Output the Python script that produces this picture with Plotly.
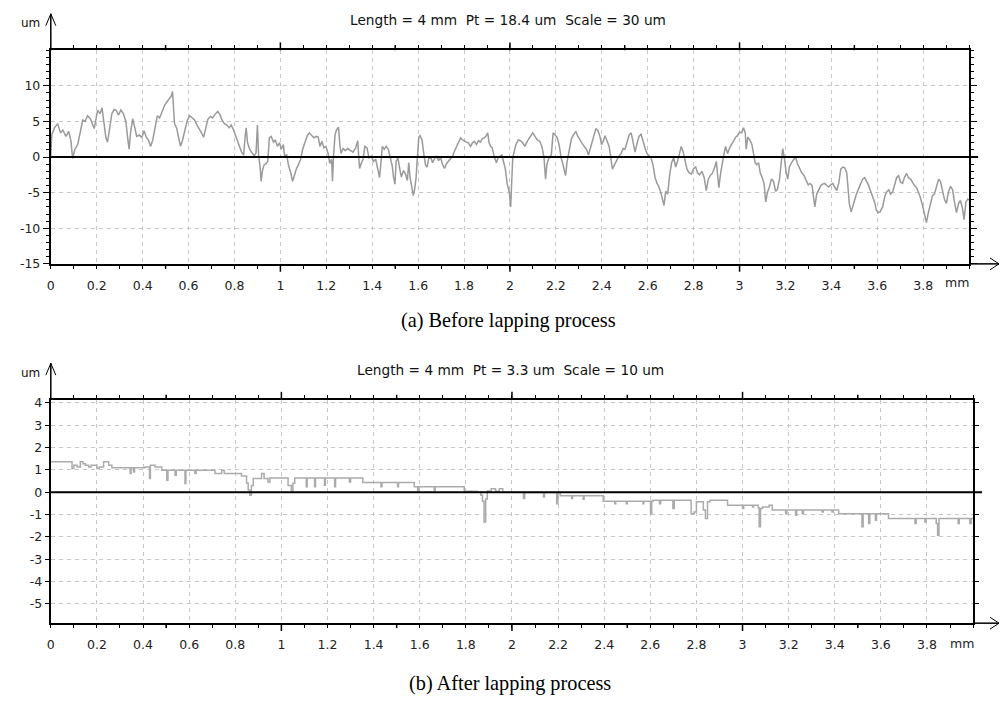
import plotly.graph_objects as go

# ---------------- data ----------------
top_mm_a = [0.000, 0.004, 0.016, 0.030, 0.042, 0.052, 0.066, 0.078, 0.088, 0.095, 0.105, 0.117, 0.129, 0.139, 0.149,
            0.160, 0.172, 0.182, 0.189, 0.204, 0.214, 0.223, 0.230, 0.240, 0.247, 0.256, 0.266, 0.276, 0.286, 0.295,
            0.305, 0.316, 0.327, 0.334, 0.341, 0.348, 0.357, 0.366, 0.374, 0.386, 0.396, 0.406, 0.416, 0.425, 0.435,
            0.444, 0.452, 0.464, 0.474, 0.486, 0.496, 0.507, 0.517, 0.525, 0.530, 0.535, 0.539, 0.548, 0.555, 0.565,
            0.574, 0.582, 0.594, 0.605, 0.616, 0.626, 0.637, 0.647, 0.656, 0.666, 0.675, 0.684, 0.695, 0.705, 0.715,
            0.727, 0.736, 0.746, 0.756, 0.767, 0.777, 0.786, 0.796, 0.805, 0.814, 0.822, 0.831, 0.840, 0.847, 0.851,
            0.857, 0.866, 0.876, 0.886, 0.894, 0.900, 0.905, 0.912, 0.916, 0.922, 0.929, 0.938, 0.945, 0.952, 0.960,
            0.970, 0.978, 0.987, 0.996, 1.004, 1.013, 1.019, 1.027, 1.035, 1.045, 1.053, 1.061, 1.069, 1.078, 1.088,
            1.097, 1.107, 1.117, 1.126, 1.136, 1.146, 1.155, 1.165, 1.172, 1.181, 1.189, 1.198, 1.208, 1.215, 1.223,
            1.227, 1.231, 1.238, 1.244, 1.253, 1.259, 1.264, 1.273, 1.283, 1.293, 1.305, 1.316, 1.328, 1.337, 1.341,
            1.345, 1.353, 1.360, 1.368, 1.377, 1.386, 1.396, 1.406, 1.415, 1.423, 1.432, 1.438, 1.444, 1.452, 1.461,
            1.470, 1.478, 1.487, 1.493, 1.499, 1.504, 1.512, 1.519, 1.527, 1.536, 1.545, 1.553, 1.559, 1.565, 1.571,
            1.579, 1.585, 1.591, 1.597, 1.603, 1.608, 1.617, 1.624, 1.632, 1.639, 1.646, 1.655, 1.663, 1.672, 1.681,
            1.689, 1.698, 1.707, 1.715, 1.724, 1.733, 1.741, 1.750, 1.759, 1.767, 1.776, 1.785, 1.793, 1.802, 1.811,
            1.819, 1.828, 1.837, 1.845, 1.854, 1.863, 1.871, 1.880, 1.889, 1.897, 1.903, 1.909, 1.916, 1.923, 1.932,
            1.941, 1.948, 1.957, 1.965, 1.973, 1.980, 1.988, 1.997]
top_um_a = [0.0, 3.1, 4.1, 4.7, 3.4, 3.8, 2.9, 3.6, 2.2, -0.2, 1.1, 1.75, 3.6, 5.2, 5.0,
            5.8, 5.4, 4.7, 4.0, 6.6, 6.1, 6.9, 5.0, 2.7, 2.1, 4.1, 6.1, 6.7, 6.5, 5.9,
            6.6, 6.1, 5.0, 2.9, 1.1, 3.6, 5.4, 4.1, 2.9, 3.1, 2.7, 3.7, 2.8, 2.4, 1.5,
            2.4, 3.6, 5.8, 5.5, 6.4, 7.3, 7.8, 8.2, 8.6, 9.2, 7.3, 4.7, 4.1, 2.9, 1.5,
            2.4, 3.6, 5.1, 5.8, 5.5, 5.2, 4.5, 3.8, 3.4, 2.8, 4.1, 5.3, 5.7, 5.5, 6.0,
            6.4, 6.0, 5.2, 4.7, 4.5, 4.1, 4.5, 3.8, 2.9, 2.2, 1.5, 0.7, 0.3, 3.1, 4.1,
            2.0, 1.1, 0.6, 0.2, 0.6, 4.5, 0.3, -1.5, -3.4, -1.9, -1.1, -0.9, -0.6, 2.7, 2.9,
            2.1, 2.4, 1.5, 2.0, 1.1, 1.75, -0.1, 0.4, -1.1, -2.2, -3.4, -2.6, -1.7, -1.1, -0.3,
            1.1, 2.2, 3.0, 3.4, 3.0, 2.7, 2.9, 2.8, 1.5, 2.2, 1.3, 1.5, 0.5, -0.9, -0.3,
            -3.4, -0.1, 3.1, 3.8, 4.2, 1.75, 0.5, 1.2, 0.9, 1.2, 0.9, 0.7, 1.3, 2.3, 0.1,
            -1.6, -0.8, -0.3, 1.5, 1.3, -0.1, 0.1, -0.6, -0.3, -1.5, -2.9, -0.8, 1.5, 1.1, 1.5,
            1.1, 0.1, -1.2, -2.9, -3.8, -0.6, -0.1, -1.5, -2.8, -1.9, -2.4, -3.3, -0.8, -2.9, -4.2,
            -5.4, -4.5, -2.9, 0.1, 2.8, 3.0, 2.4, 0.6, -1.1, -1.4, -0.2, -0.1, -0.8, -0.2, 0.1,
            -0.5, -0.1, -1.1, -1.6, -0.9, -0.6, -0.3, 0.1, 0.9, 1.5, 2.0, 2.7, 2.4, 2.2, 2.1,
            2.0, 1.5, 2.0, 2.2, 1.75, 2.3, 2.1, 2.6, 2.7, 3.0, 3.4, 2.0, 1.5, 1.3, 0.0,
            -0.8, -0.1, 0.1, 0.3, -0.8, -1.7, -3.8, -4.9]

top_mm_b = [2.003, 2.006, 2.012, 2.017, 2.026, 2.036, 2.046, 2.055, 2.065, 2.075, 2.087, 2.099, 2.109, 2.119, 2.130,
            2.139, 2.148, 2.155, 2.161, 2.170, 2.180, 2.188, 2.197, 2.206, 2.214, 2.223, 2.232, 2.242, 2.249, 2.258,
            2.268, 2.278, 2.287, 2.296, 2.304, 2.313, 2.323, 2.333, 2.342, 2.351, 2.359, 2.367, 2.374, 2.383, 2.391,
            2.399, 2.406, 2.414, 2.423, 2.432, 2.439, 2.446, 2.455, 2.464, 2.474, 2.484, 2.493, 2.501, 2.510, 2.519,
            2.528, 2.536, 2.545, 2.554, 2.562, 2.571, 2.580, 2.588, 2.597, 2.606, 2.614, 2.623, 2.632, 2.641, 2.649,
            2.658, 2.665, 2.671, 2.678, 2.687, 2.696, 2.704, 2.713, 2.722, 2.730, 2.739, 2.746, 2.754, 2.762, 2.771,
            2.780, 2.790, 2.800, 2.809, 2.817, 2.826, 2.836, 2.846, 2.855, 2.864, 2.872, 2.881, 2.890, 2.899, 2.904,
            2.910, 2.917, 2.925, 2.932, 2.939, 2.948, 2.957, 2.965, 2.974, 2.983, 2.991, 3.000, 3.009, 3.017, 3.025,
            3.029, 3.036, 3.045, 3.054, 3.061, 3.068, 3.074, 3.083, 3.090, 3.099, 3.107, 3.114, 3.122, 3.130, 3.139,
            3.148, 3.157, 3.165, 3.174, 3.181, 3.188, 3.196, 3.203, 3.210, 3.217, 3.226, 3.235, 3.244, 3.252, 3.261,
            3.271, 3.281, 3.290, 3.299, 3.307, 3.316, 3.322, 3.328, 3.336, 3.345, 3.354, 3.362, 3.371, 3.380, 3.388,
            3.397, 3.406, 3.414, 3.423, 3.432, 3.441, 3.449, 3.458, 3.467, 3.472, 3.478, 3.486, 3.493, 3.501, 3.509,
            3.518, 3.526, 3.536, 3.545, 3.554, 3.561, 3.570, 3.578, 3.588, 3.596, 3.604, 3.612, 3.623, 3.633, 3.641,
            3.650, 3.658, 3.667, 3.675, 3.684, 3.693, 3.701, 3.710, 3.719, 3.728, 3.736, 3.745, 3.754, 3.762, 3.771,
            3.780, 3.786, 3.797, 3.806, 3.814, 3.823, 3.832, 3.841, 3.849, 3.858, 3.867, 3.875, 3.884, 3.893, 3.901,
            3.910, 3.919, 3.928, 3.936, 3.945, 3.954, 3.962, 3.971, 3.978, 3.986, 3.994, 4.000]
top_um_b = [-7.0, -4.2, -0.1, 0.6, 1.75, 2.4, 2.3, 2.0, 1.5, 2.2, 2.8, 3.4, 2.9, 2.4, 2.2,
            1.5, 0.0, -3.1, -1.0, -0.1, 0.3, 3.4, 3.1, 2.7, 1.75, -0.1, -1.2, -2.6, -0.6, 1.1,
            2.6, 3.2, 3.6, 2.9, 2.4, 2.0, 1.5, 1.1, 0.3, 1.3, 2.4, 3.4, 4.0, 3.7, 3.0,
            1.75, 2.2, 3.0, 2.2, 1.5, 0.0, -1.7, -1.1, -0.5, 0.1, 0.5, 1.2, 1.1, 2.0, 3.1,
            3.4, 2.2, 0.7, 2.0, 2.9, 3.2, 2.0, 1.3, 0.5, 0.1, -0.1, -1.1, -2.9, -3.7, -4.2,
            -5.1, -6.1, -6.8, -4.8, -5.2, -2.4, -0.8, -0.1, -1.4, -0.6, 0.6, 1.5, 0.8, -0.5, -1.7,
            -2.2, -2.4, -1.6, -1.4, -2.2, -2.5, -2.0, -2.9, -4.7, -3.1, -2.6, -2.3, -1.6, -0.6, -2.4,
            -4.3, -2.4, -0.6, 0.4, 1.5, 0.5, 1.3, 1.8, 2.4, 2.8, 3.0, 3.5, 3.4, 4.1, 3.4,
            1.1, 2.8, 2.4, 1.75, 0.6, -0.8, -1.1, -0.8, -2.2, -2.9, -3.8, -6.3, -4.9, -4.2, -3.1,
            -3.4, -4.8, -4.5, -3.1, -0.6, 1.2, -0.3, -2.2, -3.1, -1.4, -0.8, -0.3, 0.0, -0.9, -1.5,
            -2.2, -2.6, -3.4, -3.9, -3.7, -4.0, -5.6, -7.0, -5.2, -4.5, -4.0, -3.8, -3.7, -4.0, -4.2,
            -3.9, -3.7, -4.2, -4.7, -3.7, -1.7, -1.4, -1.5, -2.2, -4.7, -6.5, -7.7, -6.8, -6.1, -5.2,
            -4.5, -3.7, -3.1, -2.9, -3.4, -3.9, -4.7, -5.4, -6.3, -7.5, -7.8, -7.7, -7.0, -5.5, -4.9,
            -4.6, -5.2, -4.9, -3.8, -2.9, -2.6, -3.5, -3.7, -2.8, -2.3, -2.9, -3.1, -3.7, -4.0, -4.3,
            -4.9, -5.5, -6.8, -7.9, -9.2, -7.7, -6.3, -5.4, -5.2, -4.2, -3.1, -3.4, -4.7, -6.0, -6.5,
            -4.9, -4.1, -4.6, -6.3, -7.8, -6.5, -6.1, -7.2, -8.8, -6.3, -5.9, -6.0]

bot_mm = [0.000, 0.092, 0.100, 0.114, 0.128, 0.140, 0.150, 0.164, 0.175, 0.200, 0.210, 0.229, 0.251, 0.265, 0.344,
          0.348, 0.359, 0.363, 0.409, 0.428, 0.432, 0.452, 0.481, 0.503, 0.508, 0.539, 0.544, 0.582, 0.586, 0.625,
          0.630, 0.712, 0.741, 0.752, 0.827, 0.849, 0.856, 0.863, 0.870, 0.878, 0.914, 0.925, 0.942, 0.950, 1.029,
          1.043, 1.050, 1.058, 1.108, 1.112, 1.144, 1.148, 1.187, 1.191, 1.231, 1.235, 1.295, 1.300, 1.353, 1.432,
          1.436, 1.504, 1.508, 1.576, 1.591, 1.596, 1.663, 1.667, 1.793, 1.850, 1.865, 1.872, 1.879, 1.886, 1.893,
          1.910, 1.929, 1.945, 1.960, 2.050, 2.055, 2.137, 2.141, 2.194, 2.199, 2.209, 2.259, 2.263, 2.309, 2.313,
          2.396, 2.446, 2.450, 2.496, 2.500, 2.568, 2.572, 2.601, 2.606, 2.612, 2.640, 2.645, 2.698, 2.704, 2.777,
          2.790, 2.800, 2.830, 2.839, 2.848, 2.859, 2.935, 3.000, 3.005, 3.043, 3.048, 3.068, 3.072, 3.078, 3.086,
          3.115, 3.129, 3.187, 3.192, 3.230, 3.235, 3.259, 3.264, 3.345, 3.350, 3.388, 3.393, 3.417, 3.518, 3.523,
          3.547, 3.552, 3.576, 3.581, 3.633, 3.748, 3.753, 3.791, 3.796, 3.840, 3.846, 3.852, 3.935, 3.940, 3.986,
          3.992, 4.000]
bot_um = [1.36, 1.06, 1.21, 1.13, 1.36, 1.28, 1.21, 1.13, 1.21, 1.06, 1.13, 1.36, 1.21, 1.09, 0.84,
          1.09, 0.90, 1.09, 1.13, 0.61, 1.21, 1.13, 0.98, 0.54, 0.98, 0.76, 0.98, 0.39, 0.98, 0.84,
          0.98, 0.84, 0.98, 0.84, 0.73, 0.40, 0.10, -0.13, 0.30, 0.61, 0.84, 0.61, 0.46, 0.64, 0.30,
          0.01, 0.40, 0.64, 0.24, 0.64, 0.24, 0.64, 0.31, 0.64, 0.24, 0.64, 0.46, 0.64, 0.43, 0.24,
          0.43, 0.24, 0.43, 0.24, 0.01, 0.24, 0.09, 0.24, 0.04, 0.01, -0.13, -0.40, -1.33, -0.30, 0.06,
          0.16, 0.04, 0.16, 0.00, -0.28, -0.01, -0.21, -0.01, -0.51, -0.01, -0.16, -0.28, -0.16, -0.31, -0.16,
          -0.40, -0.51, -0.40, -0.51, -0.40, -0.51, -0.40, -0.96, -0.40, -0.36, -0.51, -0.36, -0.73, -0.36, -0.96,
          -0.88, -0.43, -0.80, -1.18, -0.43, -0.36, -0.58, -0.73, -0.58, -0.66, -0.58, -0.70, -1.55, -0.73, -0.66,
          -0.58, -0.80, -0.96, -0.80, -1.03, -0.80, -0.96, -0.80, -0.88, -0.80, -0.88, -0.80, -0.96, -1.55, -0.96,
          -1.40, -0.96, -1.25, -0.96, -1.18, -1.40, -1.18, -1.33, -1.18, -1.40, -1.93, -1.18, -1.40, -1.18, -1.40,
          -1.18, -1.18]

x_tick_vals = [0, 0.2, 0.4, 0.6, 0.8, 1, 1.2, 1.4, 1.6, 1.8, 2, 2.2, 2.4, 2.6, 2.8, 3, 3.2, 3.4, 3.6, 3.8]
x_tick_text = ["0", "0.2", "0.4", "0.6", "0.8", "1", "1.2", "1.4", "1.6", "1.8", "2", "2.2", "2.4", "2.6",
               "2.8", "3", "3.2", "3.4", "3.6", "3.8"]
half_tick_vals = [0.5, 1.5, 2.5, 3.5]
unit_tick_vals = [1, 2, 3]
top_y_ticks = [-15, -10, -5, 0, 5, 10]
bot_y_ticks = [-5, -4, -3, -2, -1, 0, 1, 2, 3, 4]

top_title = "Length = 4 mm\u00a0\u00a0Pt = 18.4 um\u00a0\u00a0Scale = 30 um"
bot_title = "Length = 4 mm\u00a0\u00a0Pt = 3.3 um\u00a0\u00a0Scale = 10 um"
cap_a = "(a) Before lapping process"
cap_b = "(b) After lapping process"

# ---------------- layout helpers ----------------
W, H = 1001, 704


def px(x):
    return x / W


def py(y):
    return 1 - y / H


SANS = "DejaVu Sans, Verdana, sans-serif"
SERIF = "Liberation Serif, Times New Roman, serif"
GRID = "#c6c6c6"

top_dom_x = [px(47), px(969)]
top_dom_y = [py(264), py(47)]
bot_dom_x = [px(47), px(973)]
bot_dom_y = [py(629), py(402)]


def x_cfg(dom, anchor):
    return dict(domain=dom, anchor=anchor, range=[0, 4], tickmode="array", tickvals=x_tick_vals,
                ticktext=x_tick_text, ticks="outside", ticklen=3, tickwidth=1, tickcolor="black",
                showline=True, linecolor="black", linewidth=2, mirror="ticks",
                showgrid=True, gridcolor=GRID, griddash="4px,4px", gridwidth=1, zeroline=False,
                tickfont=dict(family=SANS, size=12.5, color="#222"), ticklabelstandoff=6,
                minor=dict(tickmode="linear", tick0=0, dtick=0.1, ticks="outside", ticklen=3,
                           tickcolor="black", showgrid=False),
                fixedrange=True)


def y_cfg(dom, anchor, rng, tv, tlen, minor_dtick):
    cfg = dict(domain=dom, anchor=anchor, range=rng, tickmode="array", tickvals=tv,
               ticktext=[str(v) for v in tv], ticks="outside", ticklen=tlen, tickwidth=1, tickcolor="black",
               showline=True, linecolor="black", linewidth=2, mirror="ticks",
               showgrid=True, gridcolor=GRID, griddash="4px,4px", gridwidth=1, zeroline=False,
               tickfont=dict(family=SANS, size=12.5, color="#222"), fixedrange=True)
    if minor_dtick:
        cfg["minor"] = dict(tickmode="linear", tick0=0, dtick=minor_dtick, ticks="outside", ticklen=3,
                            tickcolor="black", showgrid=False)
    return cfg


fig = go.Figure()
fig.add_trace(go.Scatter(x=top_mm_a + top_mm_b, y=top_um_a + top_um_b, mode="lines",
                         line=dict(color="#9a9a9a", width=1.5), xaxis="x", yaxis="y",
                         hoverinfo="skip"))
fig.add_trace(go.Scatter(x=bot_mm, y=bot_um, mode="lines", line=dict(color="#ababab", width=1.5, shape="hv"),
                         xaxis="x2", yaxis="y2", hoverinfo="skip"))

shapes = []
annotations = []


def decorate(xa, ya, dom_x, dom_y, top_px, bot_px, right_px, title, title_xy, um_xy, mm_xy, cap, cap_xy):
    plot_w = (dom_x[1] - dom_x[0]) * W
    # zero line, running a little past the right border
    shapes.append(dict(type="line", xref=xa + " domain", yref=ya, x0=0, x1=1 + 9 / plot_w, y0=0, y1=0,
                       line=dict(color="black", width=2), layer="above"))
    # longer x ticks at half and whole millimetres (bottom and top edges)
    for vals, L in ((half_tick_vals, 5), (unit_tick_vals, 8)):
        for v in vals:
            shapes.append(dict(type="line", xref=xa, yref="paper", x0=v, x1=v,
                               y0=dom_y[0], y1=dom_y[0] - L / H, line=dict(color="black", width=1.5)))
            shapes.append(dict(type="line", xref=xa, yref="paper", x0=v, x1=v,
                               y0=dom_y[1], y1=dom_y[1] + L / H, line=dict(color="black", width=1.5)))
    # x axis extension + arrow head
    shapes.append(dict(type="line", xref="paper", yref="paper", x0=px(right_px), x1=px(999),
                       y0=py(bot_px), y1=py(bot_px), line=dict(color="black", width=1.5)))
    shapes.append(dict(type="path", xref="paper", yref="paper",
                       path=f"M {px(990)},{py(bot_px - 6)} L {px(999)},{py(bot_px)} L {px(990)},{py(bot_px + 6)}",
                       line=dict(color="black", width=1)))
    # y axis extension + arrow head
    tip = top_px - 37
    shapes.append(dict(type="line", xref="paper", yref="paper", x0=px(47), x1=px(47),
                       y0=py(top_px), y1=py(tip), line=dict(color="black", width=1.5)))
    shapes.append(dict(type="path", xref="paper", yref="paper",
                       path=f"M {px(42)},{py(tip + 12)} L {px(47)},{py(tip)} L {px(52)},{py(tip + 12)}",
                       line=dict(color="black", width=1)))
    annotations.append(dict(text=title, x=px(title_xy[0]), y=py(title_xy[1]), xref="paper", yref="paper",
                            showarrow=False, xanchor="center", yanchor="middle",
                            font=dict(family=SANS, size=13.7, color="#111")))
    annotations.append(dict(text="um", x=px(um_xy[0]), y=py(um_xy[1]), xref="paper", yref="paper",
                            showarrow=False, xanchor="center", yanchor="middle",
                            font=dict(family=SANS, size=12, color="#111")))
    annotations.append(dict(text="mm", x=px(mm_xy[0]), y=py(mm_xy[1]), xref="paper", yref="paper",
                            showarrow=False, xanchor="center", yanchor="middle",
                            font=dict(family=SANS, size=12.5, color="#222")))
    annotations.append(dict(text=cap, x=px(cap_xy[0]), y=py(cap_xy[1]), xref="paper", yref="paper",
                            showarrow=False, xanchor="center", yanchor="middle",
                            font=dict(family=SERIF, size=20.3, color="black")))


decorate("x", "y", top_dom_x, top_dom_y, 47, 264, 969, top_title, (506, 16), (27, 19), (957, 283),
         cap_a, (507, 322))
decorate("x2", "y2", bot_dom_x, bot_dom_y, 402, 629, 973, bot_title, (509, 372), (27, 375), (962, 650),
         cap_b, (508, 690))

fig.update_layout(
    width=W, height=H, margin=dict(l=0, r=0, t=0, b=0, pad=0),
    paper_bgcolor="white", plot_bgcolor="white", showlegend=False,
    xaxis=x_cfg(top_dom_x, "y"),
    yaxis=y_cfg(top_dom_y, "x", [-15, 15], top_y_ticks, 6, 1),
    xaxis2=x_cfg(bot_dom_x, "y2"),
    yaxis2=y_cfg(bot_dom_y, "x2", [-5.86, 4.14], bot_y_ticks, 4, None),
    shapes=shapes, annotations=annotations,
)

fig.write_html("out.html")
